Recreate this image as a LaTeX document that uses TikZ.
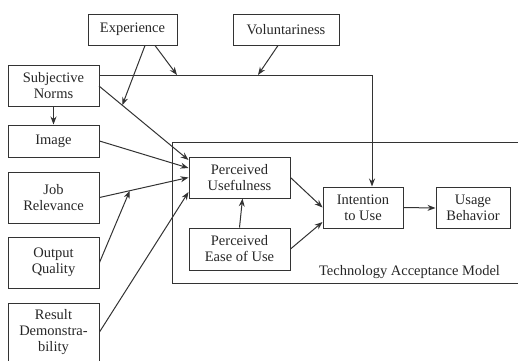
\documentclass[tikz,border=0pt]{standalone}
\usepackage{fontspec}
\setmainfont{Liberation Serif}
\usetikzlibrary{arrows.meta,calc}

\begin{document}
\begin{tikzpicture}[x=1pt, y=-1pt,
    box/.style={draw=black!80, line width=1pt, inner sep=0pt, align=center,
        text=black!85, font=\rmfamily\fontsize{14.5}{16}\selectfont},
    arr/.style={draw=black!80, line width=1pt, -{Stealth[length=8pt,width=6pt]}}]
    \useasboundingbox (0,0) rectangle (518,360);

    % the frame of the model
    \draw[black!80, line width=1pt] (172,142) rectangle (540,283);
    \node[text=black!85, font=\rmfamily\fontsize{14.5}{16}\selectfont] (tamlabel) at (409.5,272) {Technology Acceptance Model};

    % the boxes outside the model
    \node[box, minimum width=89, minimum height=31] (exp) at (132.5,29.5) {Experience};
    \node[box, minimum width=106, minimum height=31] (vol) at (286,29.5) {Voluntariness};
    \node[box, minimum width=91, minimum height=41] (sn) at (53.5,85.5) {Subjective\\Norms};
    \node[box, minimum width=91, minimum height=32] (img) at (53.5,141) {Image};
    \node[box, minimum width=91, minimum height=51] (jr) at (53.5,197.5) {Job\\Relevance};
    \node[box, minimum width=91, minimum height=51] (oq) at (53.5,262.5) {Output\\Quality};
    \node[box, minimum width=91, minimum height=58] (rd) at (53.5,332) {Result\\Demonstra-\\bility};

    % the boxes inside the model
    \node[box, minimum width=101, minimum height=41] (pu) at (239.5,177.5) {Perceived\\Usefulness};
    \node[box, minimum width=101, minimum height=42] (peou) at (239.5,249) {Perceived\\Ease of Use};
    \node[box, minimum width=80, minimum height=41] (itu) at (363,207.5) {Intention\\to Use};
    \node[box, minimum width=74, minimum height=41] (ub) at (473,208) {Usage\\Behavior};

    % points on the lines where the moderators point to
    \coordinate (bend) at (372,75);
    \coordinate (expnorm) at (177,75);
    \coordinate (volnorm) at (258,75);
    \coordinate (snstart) at (99,86);
    \coordinate (snend) at ([yshift=17.5pt]pu.west);
    \coordinate (expsn) at ($(snstart)!0.26!(snend)$);
    \coordinate (jrend) at (pu.west);
    \coordinate (oqend) at ($(jr.east)!0.34!(jrend)$);

    % draw the arrows
    \draw[arr] (bend -| sn.east) -- (bend) -- (bend |- itu.north);
    \draw[arr] ([xshift=22.5pt]exp.south) -- (expnorm);
    \draw[arr] ([xshift=12.5pt]exp.south) -- (expsn);
    \draw[arr] ([xshift=-8pt]vol.south) -- (volnorm);
    \draw[arr] (snstart) -- (snend);
    \draw[arr] (sn.south) -- (img.north);
    \draw[arr] (img.east) -- ([yshift=9.5pt]pu.west);
    \draw[arr] (jr.east) -- (jrend);
    \draw[arr] (oq.east) -- (oqend);
    \draw[arr] (rd.east) -- ([yshift=-14.5pt]pu.west);
    \draw[arr] (peou.north) -- ([xshift=3pt]pu.south);
    \draw[arr] (pu.east) -- (itu.west);
    \draw[arr] (peou.east) -- ([yshift=-14.5pt]itu.west);
    \draw[arr] (itu.east) -- (ub.west);
\end{tikzpicture}
\end{document}
